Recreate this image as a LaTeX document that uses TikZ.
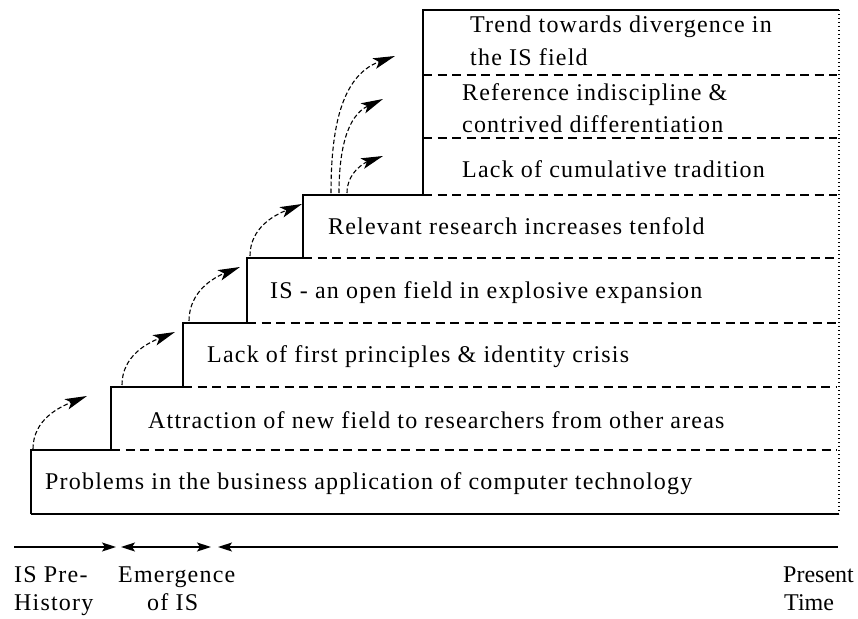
\documentclass[tikz,border=0pt]{standalone}
\usepackage{fontspec}
\setmainfont[LetterSpace=5]{Liberation Serif}
\newfontfamily\tightfont{Liberation Serif}
\usetikzlibrary{arrows.meta}
\begin{document}
\begin{tikzpicture}[x=1pt,y=-1pt,
  lbl/.style={anchor=base west,inner sep=0pt,font=\fontsize{24}{29}\selectfont},
  tightlbl/.style={anchor=base west,inner sep=0pt,font=\fontsize{24}{29}\tightfont},
  solidline/.style={line width=1.3pt},
  dashline/.style={line width=1.2pt,dash pattern=on 9pt off 5.5pt},
  dotline/.style={line width=1.2pt,dash pattern=on 1.2pt off 2.8pt},
  headtip/.tip={Stealth[length=22pt,width=11pt,inset=5pt]},
  curvearrow/.style={line width=1.1pt,dash pattern=on 4.5pt off 2.5pt,-headtip},
  tlarrow/.style={line width=1.3pt},
  tltip/.tip={Stealth[length=14pt,width=9pt,inset=3pt]}
]
\useasboundingbox (0,0) rectangle (858,618);
% step outline
\draw[solidline] (31,514) -- (31,450) -- (111,450) -- (111,387) -- (183,387) -- (183,323)
  -- (247,323) -- (247,258) -- (303,258) -- (303,195) -- (423,195) -- (423,10) -- (839,10);
\draw[solidline] (31,514) -- (839,514);
\draw[dotline] (839,10) -- (839,514);
\foreach \y/\x in {450/111, 387/183, 323/247, 258/303, 195/423, 138/423, 75/423}
  \draw[dashline] (\x,\y) -- (837,\y);
% texts
\node[lbl] (t1) at (45,489) {Problems in the business application of computer technology};
\node[lbl] (t2) at (148,428) {Attraction of new field to researchers from other areas};
\node[lbl] (t3) at (207,362) {Lack of first principles \& identity crisis};
\node[lbl] (t4) at (270,298) {IS - an open field in explosive expansion};
\node[lbl] (t5) at (328,234) {Relevant research increases tenfold};
\node[lbl] (t6) at (462,177) {Lack of cumulative tradition};
\node[lbl] (t7a) at (462,100) {Reference indiscipline \&};
\node[lbl] (t7b) at (462,132) {contrived differentiation};
\node[lbl] (t8a) at (470,33) {Trend towards divergence in};
\node[lbl] (t8b) at (470,65) {the IS field};
% curved arrows
\coordinate (a1s) at (33,449);  \coordinate (a1e) at (87,396);
\coordinate (a2s) at (122,385); \coordinate (a2e) at (175,332);
\coordinate (a3s) at (189,321); \coordinate (a3e) at (240,267);
\coordinate (a4s) at (250,256); \coordinate (a4e) at (302,204);
\coordinate (a5s) at (331,193); \coordinate (a5e) at (395,56);
\coordinate (a6s) at (339,193); \coordinate (a6e) at (383,99);
\coordinate (a7s) at (347,193); \coordinate (a7e) at (383,156);
\draw[curvearrow] (a1s) to[out=90,in=202] (a1e);
\draw[curvearrow] (a2s) to[out=90,in=202] (a2e);
\draw[curvearrow] (a3s) to[out=90,in=202] (a3e);
\draw[curvearrow] (a4s) to[out=90,in=202] (a4e);
\draw[curvearrow] (a5s) to[out=90,in=200] (a5e);
\draw[curvearrow] (a6s) to[out=90,in=205] (a6e);
\draw[curvearrow] (a7s) to[out=90,in=200] (a7e);
% timeline
\coordinate (l0) at (14,547);
\coordinate (l1) at (116,547);
\coordinate (l2) at (121,547);
\coordinate (l3) at (211,547);
\coordinate (l4) at (218,547);
\coordinate (l5) at (838,547);
\draw[tlarrow,-tltip] (l0) -- (l1);
\draw[tlarrow,tltip-tltip] (l2) -- (l3);
\draw[tlarrow,tltip-] (l4) -- (l5);
\node[lbl] (p1) at (14,582) {IS Pre-};
\node[lbl] (p2) at (14,610) {History};
\node[lbl] (e1) at (118,582) {Emergence};
\node[lbl] (e2) at (147,610) {of IS};
\node[tightlbl] (n1) at (783,582) {Present};
\node[tightlbl] (n2) at (784,610) {Time};
\end{tikzpicture}
\end{document}
